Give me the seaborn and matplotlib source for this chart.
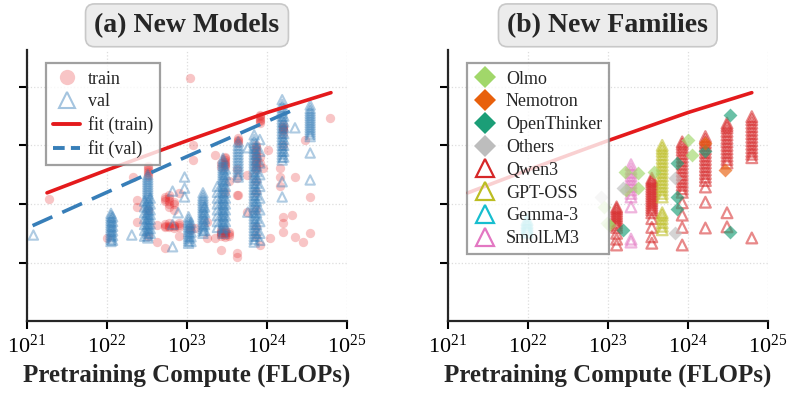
import numpy as np
import matplotlib
matplotlib.use('Agg')
import matplotlib.pyplot as plt
from matplotlib.lines import Line2D
from matplotlib.ticker import NullLocator
import seaborn as sns

train_x = [21.27, 22.0, 22.33, 22.37, 22.51, 22.63, 22.72, 22.78, 22.84, 22.9, 23.04, 23.08, 23.1,
           23.25, 23.35, 23.42, 23.47, 23.52, 23.62, 23.64, 23.75, 23.86, 23.91, 23.95, 24.01,
           24.04, 24.16, 24.2, 24.31, 24.35, 24.45, 24.48, 24.54, 24.79]
train_y = [[2.09], [1.42], [2.46], [1.69, 1.95, 2.07],
           [2.48, 2.52, 2.55, 2.58, 2.61, 2.64, 1.45, 1.9],
           [1.35, 1.64], [1.6, 1.63, 1.66, 2.05, 2.09, 2.12, 1.25],
           [1.6, 1.63, 1.67, 1.95, 2.0, 2.05, 2.1, 2.15],
           [1.59, 1.62, 1.64, 1.9, 2.0, 2.04], [1.6, 1.64, 1.67, 2.19, 1.45], [4.15, 1.55, 1.6],
           [3.0, 2.75], [1.59], [1.42, 1.7], [2.84, 1.42],
           [1.45, 1.48, 1.5, 1.53, 1.55, 1.21, 2.63, 2.7],
           [2.63, 2.66, 2.69, 2.72, 2.75, 2.78, 2.8, 1.44, 1.47, 1.5, 1.53, 1.55, 2.2],
           [1.45, 1.49, 1.52, 2.4], [1.1, 1.16, 2.15, 2.6, 2.45],
           [3.04, 3.07, 3.1, 3.13, 2.15], [1.86, 2.5],
           [2.58, 2.62, 2.66, 2.7, 2.74, 2.78, 2.82, 2.86, 2.9, 2.94, 2.98, 3.0, 2.4, 2.2, 1.9,
            1.6, 1.45],
           [3.38, 3.41, 3.44, 3.47, 3.5, 3.52, 2.7, 2.8, 1.3], [2.62], [2.92], [1.42],
           [2.62, 2.3, 2.46],
           [3.26, 3.28, 3.3, 3.32, 3.35, 3.2, 1.52, 1.67, 1.78, 3.0], [1.81], [2.46, 1.44],
           [1.35], [3.09], [2.12, 1.5], [3.47]]

val_x = [21.08, 22.05, 22.07, 22.31, 22.47, 22.51, 22.54, 22.82, 22.89, 22.97, 23.02, 23.05,
         23.2, 23.22, 23.38, 23.45, 23.48, 23.64, 23.76, 23.84, 23.87, 23.91, 24.19, 24.21,
         24.35, 24.54]
val_y = [[1.47],
         [1.36, 1.4, 1.44, 1.48, 1.52, 1.56, 1.6, 1.64, 1.68, 1.72, 1.76, 1.8, 1.84],
         [1.38, 1.46, 1.54, 1.62, 1.7, 1.78],
         [1.47],
         [1.45, 1.55, 1.65, 1.75, 1.85, 1.95, 2.05],
         [1.42, 1.46, 1.5, 1.54, 1.58, 1.62, 1.66, 1.7, 1.74, 1.78, 1.82, 1.86, 1.9, 1.94, 1.98,
          2.02, 2.06, 2.1, 2.14, 2.18, 2.22, 2.26, 2.3, 2.34, 2.38, 2.42, 2.46, 2.5],
         [1.5, 1.58, 1.66, 1.74, 1.82, 1.9, 2.0, 2.1],
         [1.27, 1.65, 2.22], [1.85], [2.12, 2.27, 2.46],
         [1.33, 1.37, 1.41, 1.45, 1.49, 1.53, 1.57, 1.61, 1.65, 1.69, 1.73, 1.78],
         [1.36, 1.44, 1.52, 1.6, 1.68],
         [1.5, 1.54, 1.58, 1.62, 1.66, 1.7, 1.74, 1.78, 1.82, 1.86, 1.9, 1.94, 1.98, 2.02, 2.06,
          2.1, 2.14, 2.19],
         [1.55, 1.65, 1.75, 1.85, 1.95],
         [1.6, 1.7, 1.8, 1.9, 2.0, 2.1, 2.2, 2.3],
         [1.5, 1.54, 1.58, 1.62, 1.66, 1.7, 1.74, 1.78, 1.82, 1.86, 1.9, 1.94, 1.98, 2.02, 2.06,
          2.1, 2.14, 2.18, 2.22, 2.26, 2.3, 2.34, 2.38, 2.42, 2.46, 2.5, 2.54, 2.58, 2.62, 2.66,
          2.7, 2.74, 2.78],
         [1.6, 1.7, 1.8, 1.9, 2.0, 2.1, 2.2, 2.3, 2.4, 2.5, 2.6],
         [2.46, 2.5, 2.55, 2.6, 2.65, 2.7, 2.75, 2.8, 2.85, 2.9, 2.95, 3.0, 3.06],
         [1.86, 2.96],
         [1.35, 1.4, 1.45, 1.5, 1.55, 1.6, 1.65, 1.7, 1.75, 1.8, 1.85, 1.9, 1.95, 2.0, 2.05,
          2.1, 2.15, 2.2, 2.25, 2.3, 2.35, 2.4, 2.45, 2.5, 2.55, 2.6, 2.65, 2.7, 2.75, 2.8,
          2.85, 2.9, 2.95, 3.0, 3.05, 3.1, 3.18],
         [1.45, 1.55, 1.65, 1.75, 1.85, 1.95, 2.05, 2.15, 2.25, 2.35, 2.45, 2.55, 2.65, 2.75,
          2.85, 2.95],
         [1.38, 1.5, 1.7, 1.9, 2.1, 2.3, 2.5, 2.7, 2.9, 3.1],
         [2.75, 2.8, 2.85, 2.9, 2.95, 3.0, 3.05, 3.1, 3.15, 3.2, 3.25, 3.3, 3.35, 3.4, 3.45,
          3.5, 3.55, 3.6, 3.65, 3.7, 3.78, 2.38, 2.12],
         [2.8, 2.9, 3.0, 3.1, 3.2, 3.3, 3.4, 3.5],
         [3.3],
         [3.15, 3.19, 3.23, 3.27, 3.31, 3.35, 3.39, 3.43, 3.47, 3.51, 3.55, 3.59, 3.63, 3.69,
          2.87, 2.41]]

fit_train_x = [21.25, 22.0, 23.0, 24.0, 24.8]
fit_train_y = [2.19, 2.58, 3.08, 3.56, 3.9]
fit_val_x = [21.07, 22.0, 23.0, 24.37]
fit_val_y = [1.63, 2.2, 2.81, 3.63]

# panel b: new families
qwen_x = [23.11, 23.55, 23.93, 24.22, 24.49, 24.8]
qwen_y = [[1.3, 1.4, 1.5, 1.6, 1.64, 1.68, 1.72, 1.76, 1.8, 1.84, 1.88, 1.92, 1.95],
          [1.33, 1.44, 1.6, 1.75, 1.85, 1.9, 1.94, 1.98, 2.02, 2.06, 2.1, 2.14, 2.18, 2.22,
           2.26, 2.3, 2.34, 2.38, 2.41, 2.44],
          [1.3, 1.6, 1.81, 2.02, 2.2, 2.26, 2.32, 2.38, 2.44, 2.5, 2.56, 2.62, 2.68, 2.74, 2.8,
           2.86, 2.92, 2.97, 3.02, 3.06],
          [1.59, 2.03, 2.29, 2.4, 2.46, 2.52, 2.58, 2.64, 2.7, 2.76, 2.82, 2.88, 2.94, 3.0,
           3.05, 3.1, 3.15],
          [1.61, 1.85, 2.7, 2.76, 2.82, 2.88, 2.94, 3.0, 3.06, 3.12, 3.18, 3.24, 3.3, 3.34, 3.38],
          [1.42, 2.79, 2.85, 2.9, 2.96, 3.02, 3.08, 3.14, 3.2, 3.26, 3.32, 3.38, 3.44, 3.49]]
gptoss_x = [23.68]
gptoss_y = [[1.56, 1.62, 1.68, 1.75, 1.81, 1.85, 2.12, 2.18, 2.24, 2.3, 2.36, 2.42, 2.48, 2.54,
             2.6, 2.66, 2.72, 2.78, 2.84, 2.9, 2.95, 3.0]]
smol_x = [23.29]
smol_y = [[1.35, 1.4, 1.95, 2.12, 2.18, 2.24, 2.3, 2.36, 2.42, 2.48, 2.54, 2.6, 2.67]]
gemma_x = [21.99]
gemma_y = [[1.52, 1.56, 1.6, 1.64, 1.68, 1.73]]

olmo_x = [22.95, 22.99, 23.02, 23.21, 23.23, 23.38, 23.38, 23.58, 24.0, 24.05]
olmo_y = [1.95, 1.67, 1.64, 2.55, 2.24, 2.53, 2.27, 2.55, 3.09, 2.84]
nemo_x = [24.22, 24.46]
nemo_y = [3.04, 2.58]
openth_x = [23.19, 23.86, 23.86, 23.86, 24.22, 24.53, 24.53]
openth_y = [1.56, 2.7, 2.12, 1.91, 2.9, 3.52, 1.52]
others_x = [22.92, 23.19, 23.84, 23.84]
others_y = [2.12, 2.27, 2.44, 1.5]

RED = '#e41a1c'
BLUE = '#377eb8'
fam_colors = {'Olmo': '#a1d76a', 'Nemotron': '#e8600c', 'OpenThinker': '#1b9e77',
              'Others': '#bdbdbd', 'Qwen3': '#d62728', 'GPT-OSS': '#bcbd22',
              'Gemma-3': '#17becf', 'SmolLM3': '#e377c2'}


def expand(cols, ys):
    xs, yy = [], []
    for c, lst in zip(cols, ys):
        xs += [c] * len(lst)
        yy += lst
    return 10 ** np.array(xs), np.array(yy)


def open_scatter(ax, x, y, color, s, lw, alpha):
    sns.scatterplot(x=x, y=y, ax=ax, marker='^', s=s, color=color, alpha=alpha, legend=False)
    coll = ax.collections[-1]
    coll.set_facecolor('none')
    coll.set_edgecolor(color)
    coll.set_linewidth(lw)


sns.set_style('ticks')
plt.rcParams['font.family'] = 'serif'
plt.rcParams['font.serif'] = ['Liberation Serif', 'DejaVu Serif']
plt.rcParams['mathtext.fontset'] = 'custom'
plt.rcParams['mathtext.rm'] = 'Liberation Serif'

fig = plt.figure(figsize=(7.94, 3.96), dpi=100)
ax1 = fig.add_axes([0.034, 0.189, 0.403, 0.685])
ax2 = fig.add_axes([0.564, 0.189, 0.403, 0.685])

# (a) new models
tx, ty = expand(train_x, train_y)
sns.scatterplot(x=tx, y=ty, ax=ax1, color=RED, s=45, alpha=0.25, linewidth=0, legend=False)
vx, vy = expand(val_x, val_y)
open_scatter(ax1, vx, vy, BLUE, 45, 1.5, 0.4)
sns.lineplot(x=10 ** np.array(fit_train_x), y=fit_train_y, ax=ax1, color=RED, lw=2.6)
sns.lineplot(x=10 ** np.array(fit_val_x), y=fit_val_y, ax=ax1, color=BLUE, lw=2.6)
ax1.lines[-1].set_dashes((6, 3))

# (b) new families
for name, cx, cy in [('Qwen3', qwen_x, qwen_y), ('GPT-OSS', gptoss_x, gptoss_y),
                     ('SmolLM3', smol_x, smol_y), ('Gemma-3', gemma_x, gemma_y)]:
    px, py = expand(cx, cy)
    open_scatter(ax2, px, py, fam_colors[name], 60, 1.6, 0.55)
for name, dx, dy in [('Olmo', olmo_x, olmo_y), ('Others', others_x, others_y),
                     ('OpenThinker', openth_x, openth_y), ('Nemotron', nemo_x, nemo_y)]:
    sns.scatterplot(x=10 ** np.array(dx), y=dy, ax=ax2, marker='D', s=50,
                    color=fam_colors[name], alpha=0.65, linewidth=0, legend=False)
sns.lineplot(x=10 ** np.array(fit_train_x), y=fit_train_y, ax=ax2, color=RED, lw=2.6)

for ax, title in [(ax1, '(a) New Models'), (ax2, '(b) New Families')]:
    ax.set_xscale('log')
    ax.set_xlim(1e21, 1e25)
    ax.set_ylim(0, 4.63)
    ax.set_xticks([1e21, 1e22, 1e23, 1e24, 1e25])
    ax.xaxis.set_minor_locator(NullLocator())
    ax.set_yticks([1, 2, 3, 4])
    ax.set_yticklabels([])
    ax.grid(True, linestyle=':', color='#dddddd', linewidth=0.9)
    sns.despine(ax=ax)
    for sp in ['left', 'bottom']:
        ax.spines[sp].set_linewidth(1.6)
    ax.tick_params(direction='out', length=6, width=1.5, labelsize=16, colors='black')
    ax.set_xlabel('Pretraining Compute (FLOPs)', fontsize=18, fontweight='bold')
    ax.set_title(title, fontsize=20, fontweight='bold', pad=13,
                 bbox=dict(boxstyle='round,pad=0.32', fc='#ececec', ec='#c8c8c8', lw=1.2))

leg_a = [Line2D([], [], marker='o', ls='none', color=RED, alpha=0.25, markersize=11, mew=0),
         Line2D([], [], marker='^', ls='none', mfc='none', mec=BLUE, alpha=0.45,
                markersize=12, mew=1.5),
         Line2D([], [], color=RED, lw=2.8),
         Line2D([], [], color=BLUE, lw=2.8, dashes=(3, 1.6))]
ax1.legend(leg_a, ['train', 'val', 'fit (train)', 'fit (val)'], loc='upper left',
           bbox_to_anchor=(0.06, 0.95), borderaxespad=0, fontsize=13, fancybox=False,
           edgecolor='#888888', framealpha=0.8, handlelength=1.45, labelspacing=0.32,
           handletextpad=0.45, borderpad=0.4).get_frame().set_linewidth(1.6)

leg_b, lab_b = [], []
for name in ['Olmo', 'Nemotron', 'OpenThinker', 'Others']:
    leg_b.append(Line2D([], [], marker='D', ls='none', color=fam_colors[name], markersize=11, mew=0))
    lab_b.append(name)
for name in ['Qwen3', 'GPT-OSS', 'Gemma-3', 'SmolLM3']:
    leg_b.append(Line2D([], [], marker='^', ls='none', mfc='none', mec=fam_colors[name],
                        markersize=13, mew=1.6))
    lab_b.append(name)
ax2.legend(leg_b, lab_b, loc='upper left', bbox_to_anchor=(0.06, 0.95), borderaxespad=0,
           fontsize=13, fancybox=False, edgecolor='#888888', framealpha=0.8,
           handlelength=1.2, labelspacing=0.32, handletextpad=0.55,
           borderpad=0.4).get_frame().set_linewidth(1.6)

fig.savefig('out.png', dpi=100)
